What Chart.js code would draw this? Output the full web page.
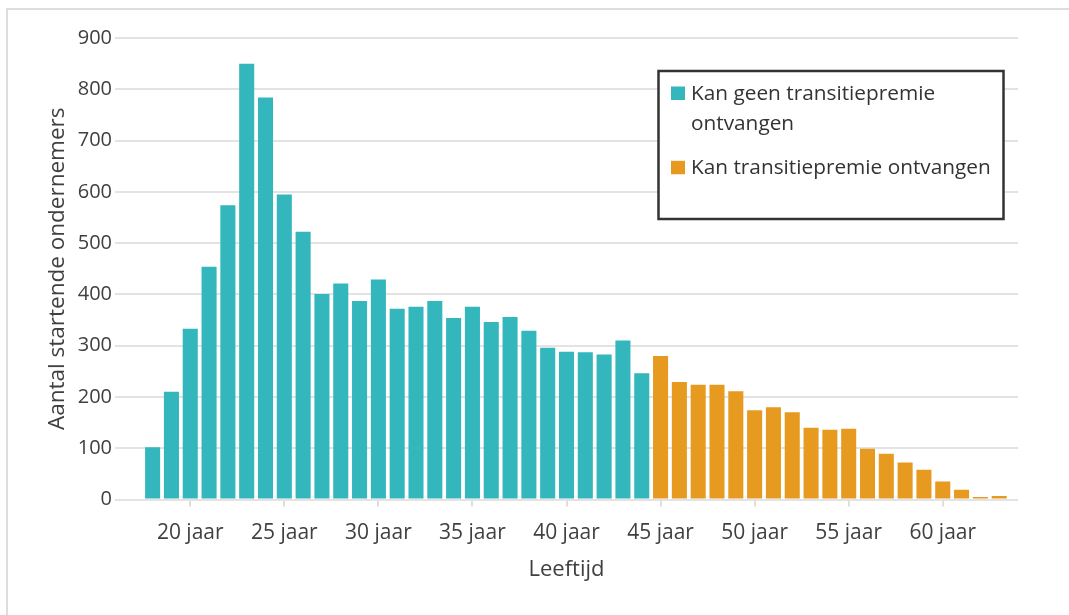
<!DOCTYPE html>
<html>
<head>
<meta charset="utf-8">
<script src="https://cdn.jsdelivr.net/npm/chart.js@4.4.1/dist/chart.umd.min.js"></script>
<style>
  html, body { margin: 0; padding: 0; background: #fff; }
  #wrap { width: 1069px; height: 615px; position: relative; }
</style>
</head>
<body>
<div id="wrap"><canvas id="c" width="1069" height="615"></canvas></div>
<script>
// ---- data ----
const agesNoPremium = [18,19,20,21,22,23,24,25,26,27,28,29,30,31,32,33,34,35,36,37,38,39,40,41,42,43,44];
const valuesNoPremium = [102,210,333,454,574,850,784,595,522,401,421,387,429,372,376,387,354,376,346,356,329,296,288,287,283,310,246];
const agesPremium = [45,46,47,48,49,50,51,52,53,54,55,56,57,58,59,60,61,62,63];
const valuesPremium = [280,229,224,224,211,174,180,170,140,136,138,99,89,72,58,35,19,5,7];
const xTickValues = [20,25,30,35,40,45,50,55,60];
const xTickSuffix = ' jaar';
const seriesLines = [['Kan geen transitiepremie', 'ontvangen'], ['Kan transitiepremie ontvangen']];
const seriesColors = ['#33b6bc', '#e69b20'];
const xTitle = 'Leeftijd';
const yTitle = 'Aantal startende ondernemers';
const yMin = 0, yMax = 900, yStep = 100;

const FONT = '"Open Sans", "DejaVu Sans", sans-serif';
const TXT = '#404040';

const framePlugin = {
  id: 'frame',
  beforeDraw(chart) {
    const ctx = chart.ctx;
    ctx.save();
    ctx.fillStyle = '#ffffff';
    ctx.fillRect(0, 0, chart.width, chart.height);
    ctx.strokeStyle = '#dddddd';
    ctx.lineWidth = 2;
    ctx.strokeRect(7, 9, 1200, 800);
    ctx.restore();
  }
};

const boxLegend = {
  id: 'boxLegend',
  afterDraw(chart) {
    const ctx = chart.ctx;
    ctx.save();
    ctx.fillStyle = '#ffffff';
    ctx.fillRect(658.5, 71, 345, 148);
    ctx.lineWidth = 2.5;
    ctx.strokeStyle = '#333333';
    ctx.strokeRect(658.5, 71, 345, 148);
    ctx.font = '20.8px ' + FONT;
    ctx.textBaseline = 'alphabetic';
    ctx.textAlign = 'left';
    let y = 100;
    chart.data.datasets.forEach((ds, k) => {
      ctx.fillStyle = ds.backgroundColor;
      ctx.fillRect(671, y - 13.5, 14, 13.5);
      ctx.fillStyle = '#333333';
      const lines = seriesLines[k];
      lines.forEach((l, i) => ctx.fillText(l, 691, y + i * 30));
      y += lines.length * 30 + 14.3;
    });
    ctx.restore();
  }
};

const ds1 = agesNoPremium.map((a, i) => ({ x: a, y: valuesNoPremium[i] }));
const ds2 = agesPremium.map((a, i) => ({ x: a, y: valuesPremium[i] }));

new Chart(document.getElementById('c'), {
  type: 'bar',
  data: {
    datasets: [
      { label: seriesLines[0].join(' '), data: ds1, backgroundColor: seriesColors[0] },
      { label: seriesLines[1].join(' '), data: ds2, backgroundColor: seriesColors[1] }
    ]
  },
  options: {
    responsive: false,
    animation: false,
    devicePixelRatio: 1,
    datasets: { bar: { grouped: false, barPercentage: 0.8, categoryPercentage: 1, borderWidth: 0 } },
    layout: { padding: { top: 38, right: 51, left: 0, bottom: 0 } },
    plugins: { legend: { display: false }, tooltip: { enabled: false } },
    scales: {
      x: {
        type: 'linear',
        min: 16, max: 64,
        offset: false,
        afterBuildTicks: s => { s.ticks = xTickValues.map(v => ({ value: v })); },
        afterFit: s => { s.height = 115.5; },
        grid: { offset: false, drawOnChartArea: false, drawTicks: true, tickLength: 7, color: '#dedede', lineWidth: 2 },
        border: { display: false },
        ticks: {
          callback: v => v + xTickSuffix,
          font: { family: FONT, size: 21 }, color: TXT, padding: 14,
          maxRotation: 0, autoSkip: false
        },
        title: { display: true, text: xTitle, font: { family: FONT, size: 22 }, color: TXT, padding: { top: 0, bottom: 32 } }
      },
      y: {
        min: yMin, max: yMax,
        afterFit: s => { s.width = 115; },
        ticks: { stepSize: yStep, padding: 3, font: { family: FONT, size: 20 }, color: TXT },
        grid: { color: '#e3e3e3', lineWidth: 2, drawTicks: false },
        border: { display: false },
        title: { display: true, text: yTitle, font: { family: FONT, size: 22.5 }, color: TXT, padding: { top: 44, bottom: 0 } }
      }
    }
  },
  plugins: [framePlugin, boxLegend]
});
</script>
</body>
</html>
